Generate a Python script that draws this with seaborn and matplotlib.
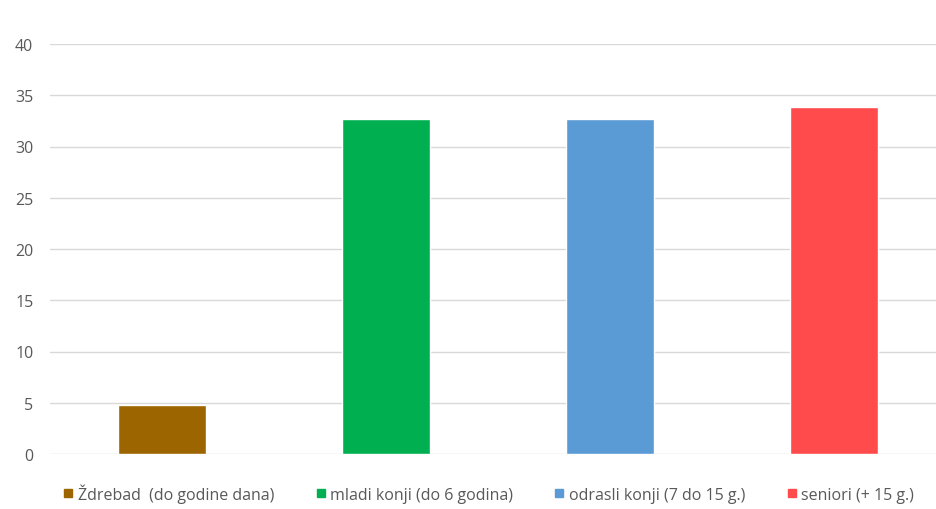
import matplotlib
matplotlib.use("Agg")
import matplotlib.pyplot as plt
import seaborn as sns
import pandas as pd
from matplotlib.lines import Line2D

categories = ["Ždrebad  (do godine dana)", "mladi konji (do 6 godina)",
              "odrasli konji (7 do 15 g.)", "seniori (+ 15 g.)"]
values = [4.8, 32.7, 32.7, 33.9]
colors = ["#9C6500", "#00B050", "#5B9BD5", "#FF4B4B"]

df = pd.DataFrame({"cat": categories, "val": values})

sns.set_theme(style="white")
plt.rcParams['font.family'] = ['Open Sans', 'DejaVu Sans']

fig = plt.figure(figsize=(9.37, 5.10), dpi=100)
ax = fig.add_axes([50 / 937, 55 / 510, 896 / 937, 410 / 510])

sns.barplot(data=df, x="cat", y="val", hue="cat", palette=colors,
            dodge=False, width=0.39, legend=False, ax=ax, saturation=1)

ax.set_ylim(0, 40)
ax.set_yticks(range(0, 41, 5))
ax.yaxis.grid(True, color="#d9d9d9", linewidth=1)
ax.set_axisbelow(True)
for s in ax.spines.values():
    s.set_visible(False)
ax.set_xticks([])
ax.set_xlabel("")
ax.set_ylabel("")
ax.tick_params(axis="y", length=0, pad=12, labelsize=11.5, labelcolor="#595959")

handles = [Line2D([0], [0], marker="s", linestyle="", markersize=6,
                  markerfacecolor=c, markeredgecolor=c) for c in colors]
fig.legend(handles, categories, loc="center", bbox_to_anchor=(0.52, 16 / 510),
           ncol=4, frameon=False, fontsize=11.5, handletextpad=0.1,
           handlelength=1.0, columnspacing=2.4, labelcolor="#595959")

fig.savefig("out.png", dpi=100)
